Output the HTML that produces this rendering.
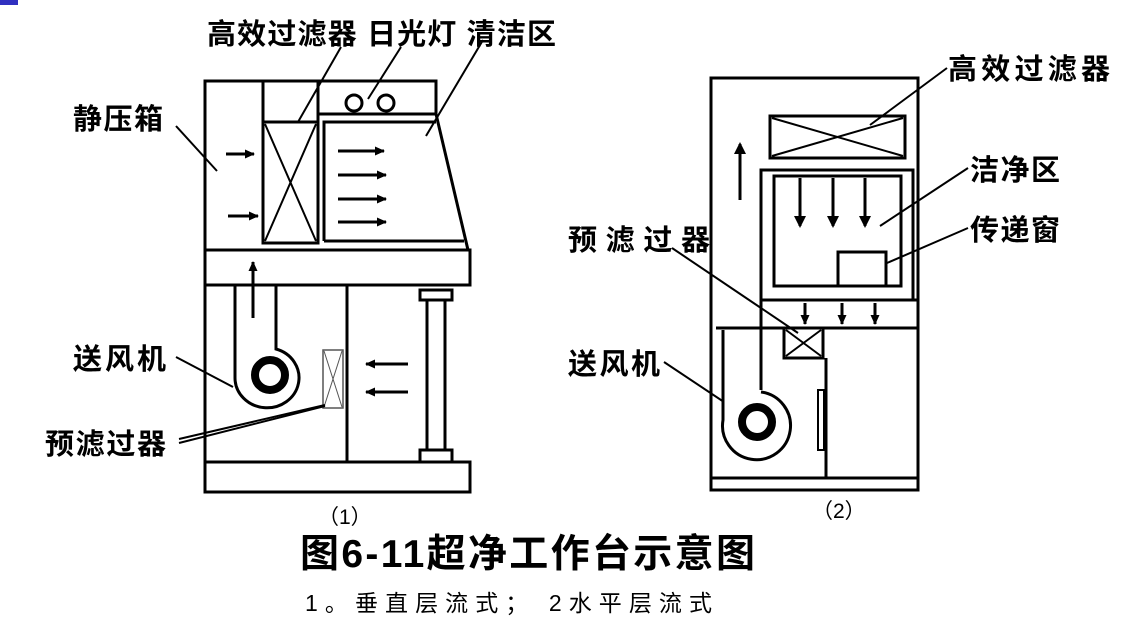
<!DOCTYPE html>
<html><head><meta charset="utf-8"><style>
html,body{margin:0;padding:0;background:#fff;}
svg{display:block;}
text{font-family:"Liberation Sans","Noto Sans CJK SC",sans-serif;font-weight:bold;fill:#000;}
</style></head><body>
<svg width="1129" height="637" viewBox="0 0 1129 637" xmlns="http://www.w3.org/2000/svg">
<defs>
<marker id="ah" markerWidth="10" markerHeight="9" refX="9" refY="4.5" orient="auto" markerUnits="userSpaceOnUse">
<path d="M0,0 L10,4.5 L0,9 Z" fill="#000"/></marker>
<marker id="ahb" markerWidth="12" markerHeight="12" refX="10" refY="6" orient="auto" markerUnits="userSpaceOnUse">
<path d="M0,0 L12,6 L0,12 Z" fill="#000"/></marker>
</defs>
<rect x="0" y="0" width="18" height="5" fill="#3030c0"/>
<g fill="none" stroke="#000" stroke-width="3">
<path d="M205,492 L205,81 L436,81 L436,114 L468,250"/>
<rect x="205" y="250" width="265" height="35"/>
<line x1="263" y1="81" x2="263" y2="243"/>
<line x1="318" y1="81" x2="318" y2="122"/>
<rect x="263" y="122" width="55" height="121"/>
<path d="M265,124 L316,241 M316,124 L265,241" stroke-width="2"/>
<line x1="318" y1="114" x2="436" y2="114"/>
<circle cx="354" cy="103" r="8"/>
<circle cx="386" cy="103" r="8"/>
<path d="M324,241 L324,122 L436,122"/>
<line x1="324" y1="241" x2="464" y2="241"/>
<line x1="347" y1="285" x2="347" y2="462"/>
<rect x="205" y="462" width="265" height="30"/>
<path d="M235,285 L235,378 A32,30 0 1 0 276,349 L276,285"/>
<circle cx="270" cy="375" r="15" stroke-width="8"/>
<rect x="323" y="350" width="20" height="58" stroke-width="1.5" stroke="#555"/>
<path d="M324,351 L342,407 M342,351 L324,407" stroke-width="1" stroke="#555"/>
<rect x="427" y="300" width="18" height="150"/>
<rect x="420" y="290" width="32" height="10"/>
<rect x="420" y="450" width="32" height="12"/>
<g stroke-width="3">
<line x1="226" y1="154" x2="254" y2="154" marker-end="url(#ah)"/>
<line x1="228" y1="216" x2="258" y2="216" marker-end="url(#ah)"/>
<line x1="338" y1="151" x2="384" y2="151" marker-end="url(#ah)"/>
<line x1="338" y1="175" x2="386" y2="175" marker-end="url(#ah)"/>
<line x1="338" y1="199" x2="386" y2="199" marker-end="url(#ah)"/>
<line x1="338" y1="222" x2="386" y2="222" marker-end="url(#ah)"/>
<line x1="253" y1="318" x2="253" y2="262" marker-end="url(#ah)"/>
<line x1="408" y1="364" x2="366" y2="364" marker-end="url(#ah)"/>
<line x1="408" y1="392" x2="366" y2="392" marker-end="url(#ah)"/>
</g>
<g stroke-width="2">
<line x1="176" y1="126" x2="217" y2="171"/>
<line x1="176" y1="357" x2="233" y2="387"/>
<line x1="179" y1="443" x2="325" y2="406"/>
<line x1="179" y1="439" x2="325" y2="405"/>
<line x1="341" y1="47" x2="298" y2="122"/>
<line x1="401" y1="47" x2="368" y2="99"/>
<line x1="483" y1="40" x2="426" y2="136"/>
</g>
<rect x="711" y="78" width="207" height="412"/>
<line x1="711" y1="478" x2="918" y2="478"/>
<rect x="770" y="116" width="135" height="42"/>
<path d="M772,118 L903,156 M903,118 L772,156" stroke-width="2"/>
<path d="M761,390 L761,170 L913,170 L913,300"/>
<rect x="774" y="176" width="127" height="110"/>
<line x1="761" y1="300" x2="918" y2="300"/>
<line x1="716" y1="328" x2="918" y2="328"/>
<rect x="838" y="252" width="48" height="34"/>
<rect x="784" y="328" width="39" height="30"/>
<path d="M786,330 L821,356 M821,330 L786,356" stroke-width="2"/>
<line x1="826" y1="358" x2="826" y2="478"/>
<rect x="818" y="390" width="6" height="60" stroke-width="2"/>
<path d="M723,330 L723,420 A34,34 0 1 0 761,392"/>
<circle cx="757" cy="422" r="15" stroke-width="8"/>
<g stroke-width="3">
<line x1="740" y1="200" x2="740" y2="144" marker-end="url(#ahb)"/>
<line x1="800" y1="178" x2="800" y2="226" marker-end="url(#ahb)"/>
<line x1="833" y1="178" x2="833" y2="226" marker-end="url(#ahb)"/>
<line x1="865" y1="178" x2="865" y2="226" marker-end="url(#ahb)"/>
<line x1="805" y1="303" x2="805" y2="324" marker-end="url(#ah)"/>
<line x1="842" y1="303" x2="842" y2="324" marker-end="url(#ah)"/>
<line x1="875" y1="303" x2="875" y2="324" marker-end="url(#ah)"/>
</g>
<g stroke-width="2">
<line x1="947" y1="68" x2="870" y2="125"/>
<line x1="968" y1="168" x2="880" y2="226"/>
<line x1="968" y1="228" x2="887" y2="263"/>
<line x1="672" y1="248" x2="798" y2="333"/>
<line x1="664" y1="362" x2="724" y2="402"/>
</g>
</g>
<g font-size="29">
<text x="207" y="44" textLength="349" lengthAdjust="spacing">高效过滤器 日光灯 清洁区</text>
<text x="73" y="129" textLength="90" lengthAdjust="spacing">静压箱</text>
<text x="73" y="369" textLength="93" lengthAdjust="spacing">送风机</text>
<text x="45" y="454" textLength="121" lengthAdjust="spacing">预滤过器</text>
<text x="948" y="79" textLength="162" lengthAdjust="spacing">高效过滤器</text>
<text x="970" y="180" textLength="90" lengthAdjust="spacing">洁净区</text>
<text x="970" y="240" textLength="90" lengthAdjust="spacing">传递窗</text>
<text x="568" y="250" textLength="142" lengthAdjust="spacing">预滤过器</text>
<text x="568" y="374" textLength="92" lengthAdjust="spacing">送风机</text>
</g>
<text x="318" y="524" font-size="21" style="font-weight:normal">（1）</text>
<text x="812" y="518" font-size="21" style="font-weight:normal">（2）</text>
<text x="300" y="567" font-size="39" textLength="455" lengthAdjust="spacing">图6-11超净工作台示意图</text>
<text x="305" y="611" font-size="23" textLength="407" lengthAdjust="spacing" style="font-weight:normal">1。垂直层流式；  2水平层流式</text>
</svg>
</body></html>
